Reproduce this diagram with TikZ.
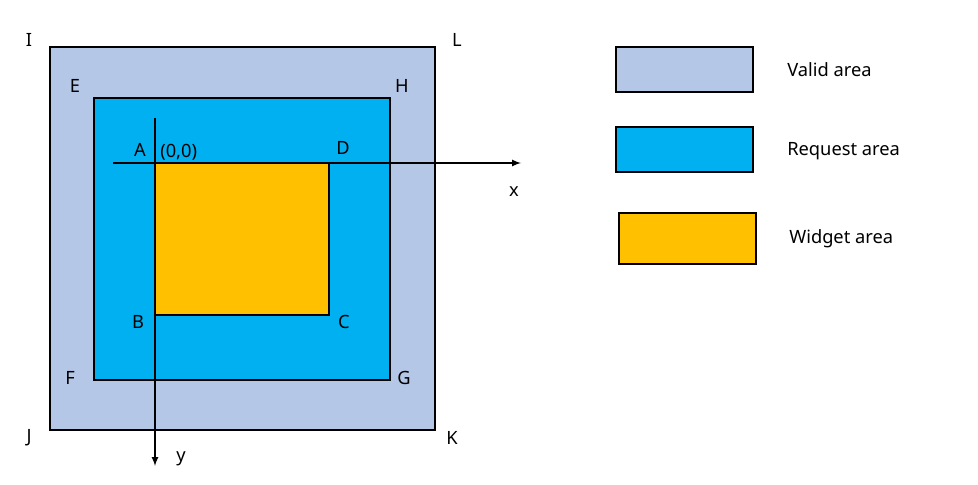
\documentclass[tikz,border=0pt]{standalone}
\usepackage{fontspec}
\setmainfont{Noto Sans}
\definecolor{cValid}{HTML}{B4C7E7}
\definecolor{cRequest}{HTML}{00B0F0}
\definecolor{cWidget}{HTML}{FFC000}
\tikzset{myarea/.style={
  draw=black,
  line width=1pt,
  }
}
\tikzset{mylabel/.style={
  font=\fontsize{13}{15}\selectfont\bfseries,
  inner sep=0pt,
  }
}
\begin{document}
\begin{tikzpicture}[x=0.025cm,y=-0.025cm]
  \useasboundingbox (0,0) rectangle (978,485);
  % areas
  \draw [myarea, fill=cValid] (50,47) rectangle (435,430);
  \draw [myarea, fill=cRequest] (94,98) rectangle (390,380);
  \draw [myarea, fill=cWidget] (155,163) rectangle (329,315);
  % axes
  \coordinate (x0) at (113,163);
  \coordinate (x1) at (521,163);
  \coordinate (y0) at (155,118);
  \coordinate (y1) at (155,466);
  \draw [line width=1.2pt, -latex] (x0) -- (x1);
  \draw [line width=1.2pt, -latex] (y0) -- (y1);
  % corner labels
  \node [mylabel] (I) at (29,40) {I};
  \node [mylabel] (L) at (457,40) {L};
  \node [mylabel] (E) at (75,86) {E};
  \node [mylabel] (H) at (402,86) {H};
  \node [mylabel] (A) at (140,150) {A};
  \node [mylabel, anchor=west] (o) at (160,152) {(0,0)};
  \node [mylabel] (D) at (343,148) {D};
  \node [mylabel] (B) at (138,322) {B};
  \node [mylabel] (C) at (344,322) {C};
  \node [mylabel] (F) at (70,378) {F};
  \node [mylabel] (G) at (404,378) {G};
  \node [mylabel] (J) at (29,438) {J};
  \node [mylabel] (K) at (452,438) {K};
  \node [font=\fontsize{13}{15}\selectfont] (xl) at (514,192) {x};
  \node [font=\fontsize{13}{15}\selectfont] (yl) at (181,459) {y};
  % legend
  \draw [myarea, fill=cValid] (616,47) rectangle (753,92);
  \draw [myarea, fill=cRequest] (616,127) rectangle (753,172);
  \draw [myarea, fill=cWidget] (619,213) rectangle (756,264);
  \node [mylabel, anchor=west] (v) at (787,70) {Valid area};
  \node [mylabel, anchor=west] (r) at (787,151) {Request area};
  \node [mylabel, anchor=west] (w) at (789,239) {Widget area};
\end{tikzpicture}
\end{document}
